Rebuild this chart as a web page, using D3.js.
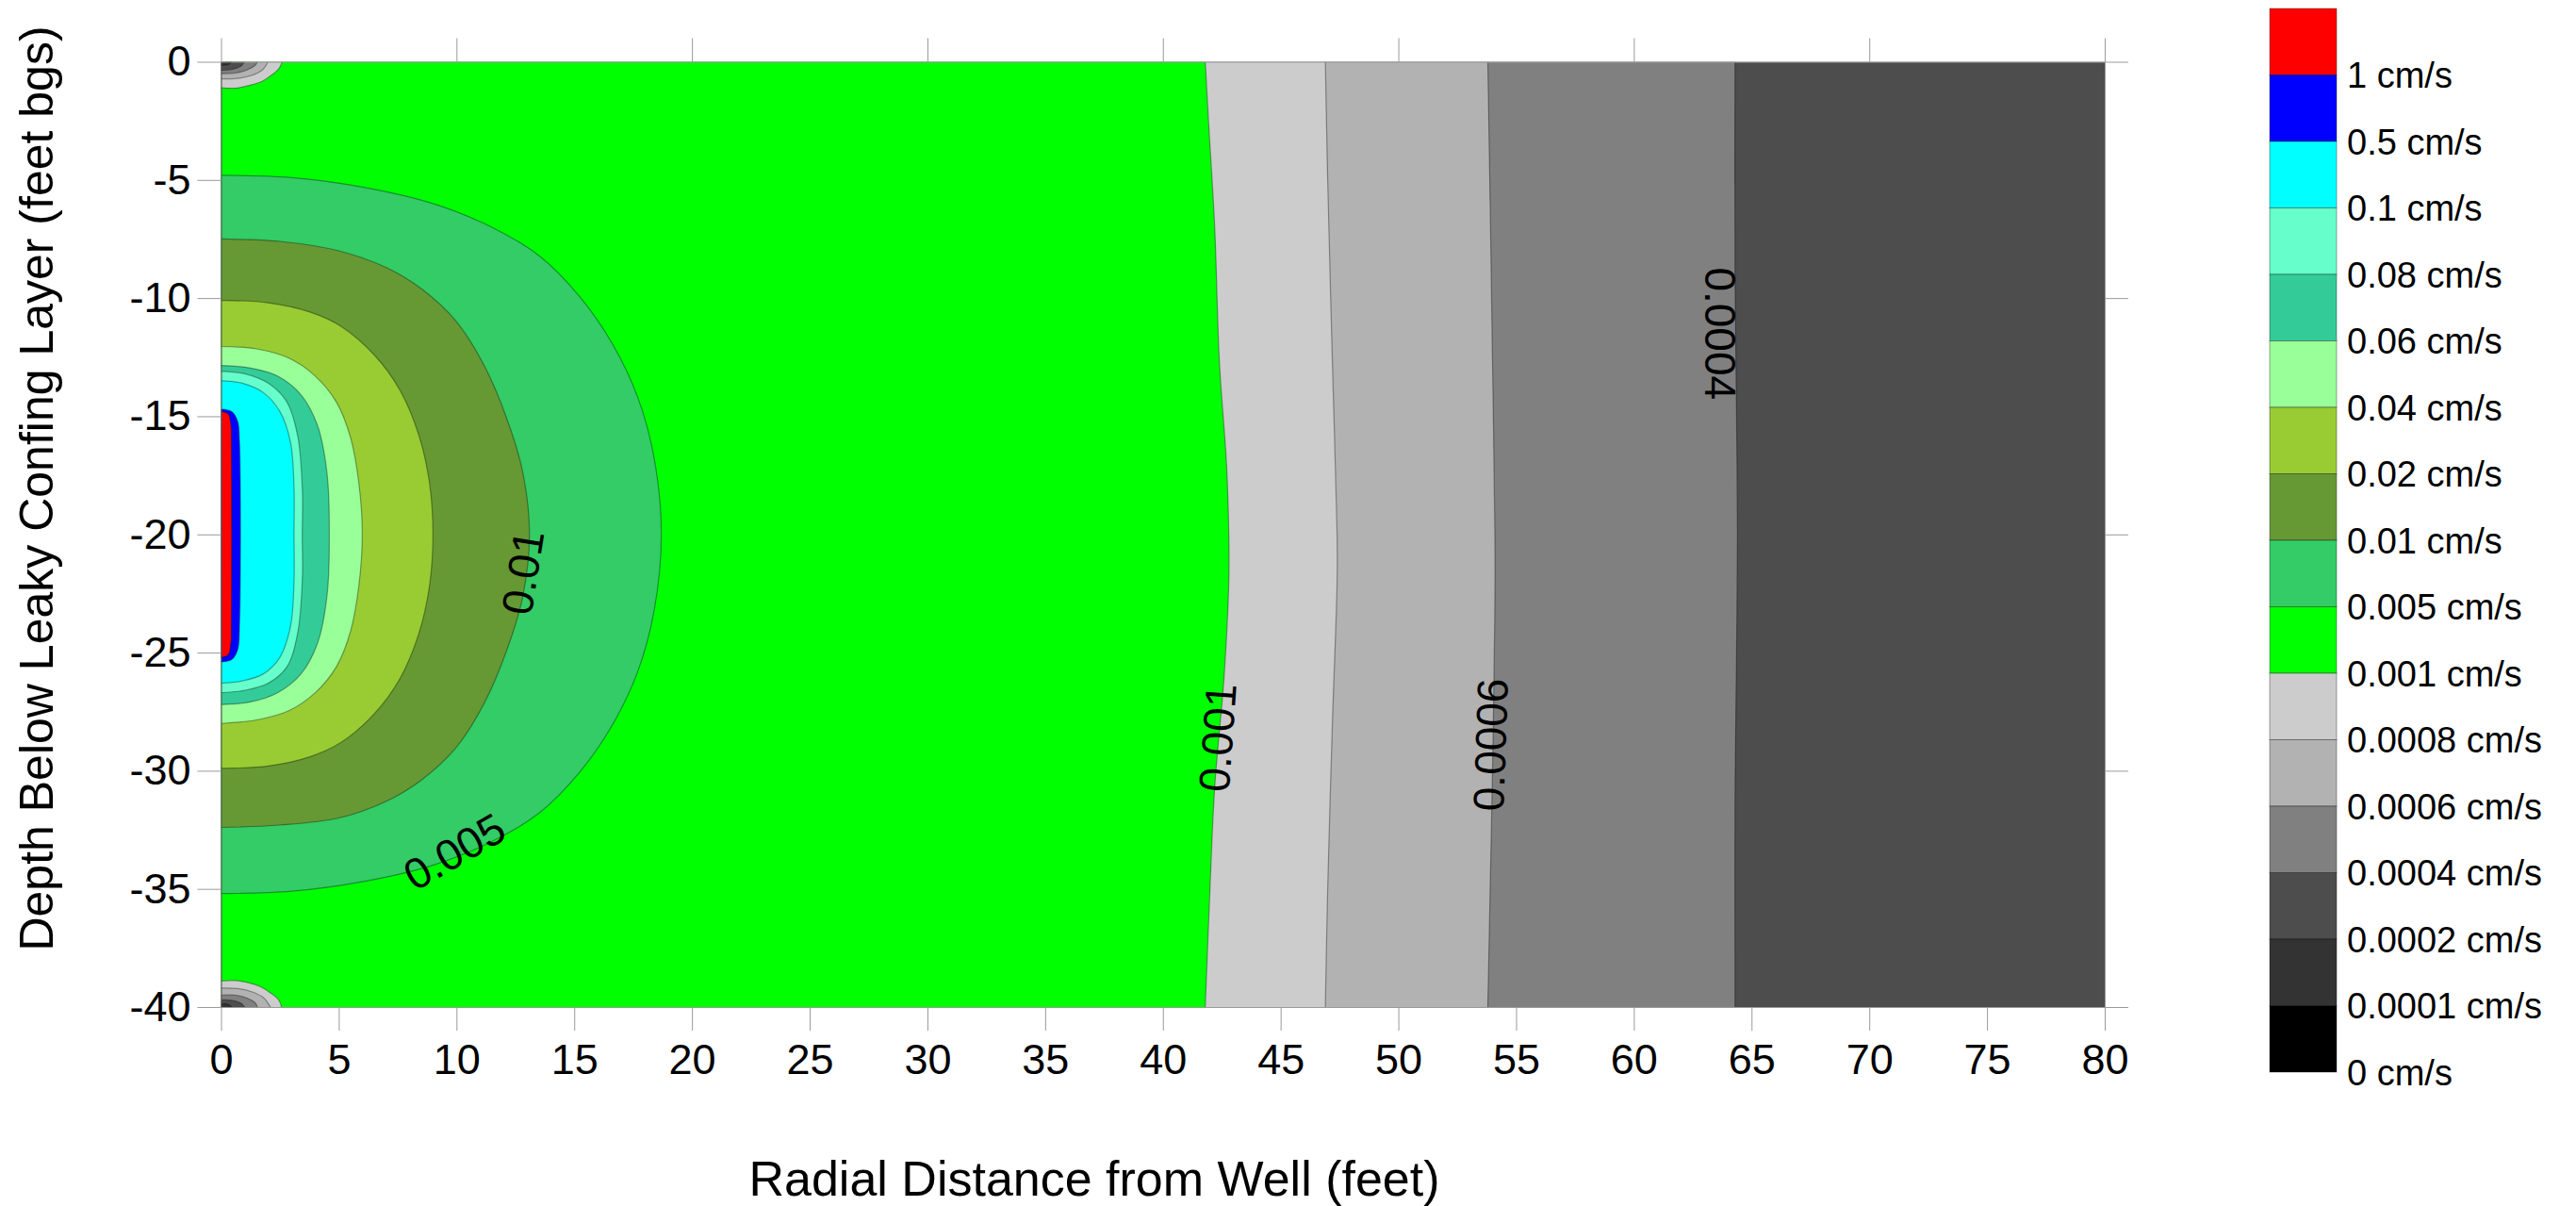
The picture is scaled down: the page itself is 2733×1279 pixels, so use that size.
<!DOCTYPE html>
<html>
<head>
<meta charset="utf-8">
<script src="https://cdn.jsdelivr.net/npm/d3@7"></script>
<style>
  body { margin: 0; background: #fff; }
  svg text { font-family: "Liberation Sans", Arial, sans-serif; fill: #000; }
</style>
</head>
<body>
<div id="canvas"></div>
<script>
// contour levels (cm/s); bandColors[i] fills values between levels[i] and levels[i+1]
var levels = [0, 0.0001, 0.0002, 0.0004, 0.0006, 0.0008, 0.001, 0.005, 0.01, 0.02, 0.04, 0.06, 0.08, 0.1, 0.5, 1];
var bandColors = ['#000000', '#333333', '#4d4d4d', '#808080', '#b2b2b2', '#cccccc', '#00ff00', '#33cc66',
  '#669933', '#99cc33', '#99ff99', '#33cc99', '#66ffcc', '#00ffff', '#0000ff', '#ff0000'];

var xTicks = [0, 5, 10, 15, 20, 25, 30, 35, 40, 45, 50, 55, 60, 65, 70, 75, 80];
var yTicks = [0, -5, -10, -15, -20, -25, -30, -35, -40];
var xTopTicks = [0, 10, 20, 30, 40, 50, 60, 70, 80];
var yRightTicks = [0, -10, -20, -30, -40];

// contour boundaries, [radial ft, depth ft]
var c0004 = [[64.3, 0], [64.3, -9], [64.4, -20], [64.3, -31], [64.3, -40]];
var c0006 = [[53.8, 0], [53.9, -6], [54.0, -12.7], [54.1, -20], [54.1, -23], [54.0, -30], [53.9, -35], [53.8, -40]];
var c0008 = [[46.9, 0], [47.0, -5], [47.2, -12.7], [47.4, -20], [47.4, -22], [47.2, -28], [47.0, -35], [46.9, -40]];
var c001 = [[41.8, 0], [41.95, -2.7], [42.2, -7], [42.4, -12.7], [42.7, -17], [42.8, -20], [42.8, -22],
  [42.6, -26], [42.2, -30.7], [42.0, -35], [41.8, -40]];
var c005 = [[0, -4.8], [3, -4.9], [6, -5.3], [9, -6.0], [11.5, -7.0], [13.5, -8.2], [15.2, -9.9], [16.6, -11.9],
  [17.7, -14.2], [18.4, -16.8], [18.7, -20], [18.4, -23.2], [17.7, -25.8], [16.6, -28.1], [15.2, -30.1],
  [13.5, -31.8], [11.5, -33.0], [9, -34.0], [6, -34.7], [3, -35.1], [0, -35.2]];
var c01 = [[0, -7.5], [2.5, -7.6], [5, -8.0], [7, -8.7], [8.5, -9.6], [10.0, -11.0], [11.2, -12.9], [12.1, -15.0],
  [12.8, -17.3], [13.1, -20], [12.8, -22.7], [12.1, -25.0], [11.2, -27.1], [10.0, -29.0], [8.5, -30.4],
  [7, -31.3], [5, -32.0], [2.5, -32.3], [0, -32.4]];
var c02 = [[0, -10.1], [2, -10.2], [3.8, -10.6], [5.1, -11.2], [6.5, -12.4], [7.6, -13.9], [8.4, -15.8], [8.85, -17.8],
  [9.0, -20], [8.85, -22.2], [8.4, -24.2], [7.6, -26.1], [6.5, -27.6], [5.1, -28.8], [3.8, -29.4], [2, -29.8], [0, -29.9]];
var c04 = [[0, -12.05], [1.5, -12.15], [2.9, -12.55], [4.0, -13.3], [4.9, -14.4], [5.5, -15.9], [5.85, -17.8], [6.0, -20],
  [5.85, -22.2], [5.5, -24.1], [4.9, -25.6], [4.0, -26.7], [2.9, -27.45], [1.5, -27.85], [0, -28.0]];
var c06 = [[0, -12.85], [1.2, -12.95], [2.4, -13.3], [3.4, -14.1], [4.1, -15.4], [4.5, -17.4], [4.6, -20],
  [4.5, -22.6], [4.1, -24.6], [3.4, -25.9], [2.4, -26.7], [1.2, -27.1], [0, -27.2]];
var c08 = [[0, -13.1], [1, -13.2], [2, -13.6], [2.8, -14.4], [3.25, -15.8], [3.45, -18], [3.45, -20],
  [3.45, -22], [3.25, -24.2], [2.8, -25.6], [2, -26.3], [1, -26.6], [0, -26.7]];
var c1 = [[0, -13.5], [0.9, -13.6], [1.8, -14.0], [2.5, -14.8], [2.95, -16.1], [3.1, -18], [3.1, -20],
  [3.1, -22], [2.95, -23.9], [2.5, -25.2], [1.8, -25.9], [0.9, -26.2], [0, -26.3]];
var c5 = [[0, -14.7], [0.45, -14.8], [0.7, -15.2], [0.78, -16], [0.78, -24], [0.7, -24.9], [0.45, -25.3], [0, -25.4]];
var c10 = [[0, -14.8], [0.3, -14.9], [0.42, -15.4], [0.44, -16], [0.44, -24], [0.42, -24.6], [0.3, -25.1], [0, -25.2]];

// low-value blobs in the two corners at the well
var top001 = [[0, -1.1], [0.6, -1.12], [1.2, -1.0], [1.7, -0.85], [2.1, -0.6], [2.45, -0.3], [2.6, 0]];
var top0008 = [[0, -0.72], [0.7, -0.7], [1.3, -0.58], [1.75, -0.35], [2.0, 0]];
var top0006 = [[0, -0.5], [0.6, -0.48], [1.1, -0.35], [1.45, -0.15], [1.55, 0]];
var top0004 = [[0, -0.36], [0.5, -0.32], [0.85, -0.18], [1.0, 0]];
var top0002 = [[0, -0.15], [0.3, -0.12], [0.45, 0]];
var bot001 = [[0, -38.9], [0.6, -38.88], [1.2, -38.98], [1.7, -39.15], [2.1, -39.4], [2.45, -39.7], [2.57, -40]];
var bot0008 = [[0, -39.2], [0.7, -39.22], [1.3, -39.35], [1.8, -39.6], [2.1, -40]];
var bot0006 = [[0, -39.5], [0.6, -39.5], [1.1, -39.62], [1.45, -39.82], [1.55, -40]];
var bot0004 = [[0, -39.7], [0.5, -39.72], [0.85, -39.84], [1.0, -40]];
var bot0002 = [[0, -39.85], [0.3, -39.88], [0.45, -40]];

var contourLabels = [
  {text: '0.01', r: 12.8, z: -21.6, angle: -81},
  {text: '0.005', r: 9.9, z: -33.4, angle: -30},
  {text: '0.001', r: 42.3, z: -28.6, angle: -86},
  {text: '0.0006', r: 53.9, z: -28.9, angle: -88},
  {text: '0.0004', r: 63.7, z: -11.5, angle: 90}
];

// painter's order: outermost first; side says which side of the level is inside
var contours = [
  {level: 0.0004, side: 'high', pts: c0004},
  {level: 0.0006, side: 'high', pts: c0006},
  {level: 0.0008, side: 'high', pts: c0008},
  {level: 0.001, side: 'high', pts: c001},
  {level: 0.005, side: 'high', pts: c005},
  {level: 0.01, side: 'high', pts: c01},
  {level: 0.02, side: 'high', pts: c02},
  {level: 0.04, side: 'high', pts: c04},
  {level: 0.06, side: 'high', pts: c06},
  {level: 0.08, side: 'high', pts: c08},
  {level: 0.1, side: 'high', pts: c1},
  {level: 0.5, side: 'high', pts: c5},
  {level: 1, side: 'high', pts: c10},
  {level: 0.001, side: 'low', pts: top001},
  {level: 0.0008, side: 'low', pts: top0008},
  {level: 0.0006, side: 'low', pts: top0006},
  {level: 0.0004, side: 'low', pts: top0004},
  {level: 0.0002, side: 'low', pts: top0002},
  {level: 0.001, side: 'low', pts: bot001},
  {level: 0.0008, side: 'low', pts: bot0008},
  {level: 0.0006, side: 'low', pts: bot0006},
  {level: 0.0004, side: 'low', pts: bot0004},
  {level: 0.0002, side: 'low', pts: bot0002}
];

var W = 2733, H = 1279;
var plot = {left: 234.5, top: 65.5, right: 2233, bottom: 1068};

var svg = d3.select('#canvas')
  .append('svg')
  .attr('width', W)
  .attr('height', H);

var x = d3.scaleLinear().domain([0, 80]).range([plot.left, plot.right]);
var y = d3.scaleLinear().domain([0, -40]).range([plot.top, plot.bottom]);

var bandColor = function (level, side) {
  var i = levels.indexOf(level);
  return bandColors[side === 'high' ? i : i - 1];
};

svg.append('clipPath')
  .attr('id', 'plot-clip')
  .append('rect')
  .attr('x', plot.left)
  .attr('y', plot.top)
  .attr('width', plot.right - plot.left)
  .attr('height', plot.bottom - plot.top);

var field = svg.append('g').attr('clip-path', 'url(#plot-clip)');

// band between 0.0002 and 0.0004 fills the far field
field.append('rect')
  .attr('x', x(0))
  .attr('y', y(0))
  .attr('width', x(80) - x(0))
  .attr('height', y(-40) - y(0))
  .attr('fill', bandColor(0.0002, 'high'));

var line = d3.line()
  .x(function (d) { return x(d[0]); })
  .y(function (d) { return y(d[1]); })
  .curve(d3.curveCatmullRom);

var regionPath = function (pts) {
  var first = pts[0], last = pts[pts.length - 1];
  return line(pts) + 'L' + x(0) + ',' + y(last[1]) + 'L' + x(0) + ',' + y(first[1]) + 'Z';
};

field.selectAll('path.band')
  .data(contours)
  .enter()
  .append('path')
  .attr('class', 'band')
  .attr('d', function (d) { return regionPath(d.pts); })
  .attr('fill', function (d) { return bandColor(d.level, d.side); });

field.selectAll('path.iso')
  .data(contours)
  .enter()
  .append('path')
  .attr('class', 'iso')
  .attr('d', function (d) { return line(d.pts); })
  .attr('fill', 'none')
  .attr('stroke', '#000')
  .attr('stroke-opacity', 0.35)
  .attr('stroke-width', 1.2);

field.selectAll('text.clabel')
  .data(contourLabels)
  .enter()
  .append('text')
  .attr('class', 'clabel')
  .attr('transform', function (d) {
    return 'translate(' + x(d.r) + ',' + y(d.z) + ') rotate(' + d.angle + ')';
  })
  .attr('text-anchor', 'middle')
  .attr('dy', '0.36em')
  .style('font-size', '46px')
  .text(function (d) { return d.text; });

// axes
var styleAxis = function (g, labels) {
  g.select('.domain').attr('stroke', '#9a9a9a');
  g.selectAll('.tick line').attr('stroke', '#9a9a9a');
  g.selectAll('.tick text')
    .attr('fill', '#000')
    .style('font-size', labels ? '45px' : '0px')
    .style('font-family', '"Liberation Sans", Arial, sans-serif');
};

var plainNumber = function (d) { return String(d); };

svg.append('g')
  .attr('transform', 'translate(0,' + plot.bottom + ')')
  .call(d3.axisBottom(x).tickValues(xTicks).tickSize(25).tickSizeOuter(0).tickPadding(14).tickFormat(plainNumber))
  .call(styleAxis, true);

svg.append('g')
  .attr('transform', 'translate(' + plot.left + ',0)')
  .call(d3.axisLeft(y).tickValues(yTicks).tickSize(25).tickSizeOuter(0).tickPadding(7).tickFormat(plainNumber))
  .call(styleAxis, true)
  .select('.domain').attr('stroke', '#555');

svg.append('g')
  .attr('transform', 'translate(0,' + plot.top + ')')
  .call(d3.axisTop(x).tickValues(xTopTicks).tickSize(25).tickSizeOuter(0).tickFormat(''))
  .call(styleAxis, false);

svg.append('g')
  .attr('transform', 'translate(' + plot.right + ',0)')
  .call(d3.axisRight(y).tickValues(yRightTicks).tickSize(25).tickSizeOuter(0).tickFormat(''))
  .call(styleAxis, false);

svg.append('text')
  .attr('x', 1161)
  .attr('y', 1268)
  .attr('text-anchor', 'middle')
  .style('font-size', '52px')
  .text('Radial Distance from Well (feet)');

svg.append('text')
  .attr('transform', 'translate(56,518) rotate(-90)')
  .attr('text-anchor', 'middle')
  .style('font-size', '50px')
  .text('Depth Below Leaky Confing Layer (feet bgs)');

// colour legend, red at the top
var legendY = d3.scaleLinear().domain([0, levels.length]).range([9, 1137]);
var legendRows = levels.map(function (lv, i) { return {level: lv, color: bandColors[i]}; }).reverse();

var legend = svg.append('g');

legend.selectAll('rect')
  .data(legendRows)
  .enter()
  .append('rect')
  .attr('x', 2408)
  .attr('y', function (d, i) { return legendY(i); })
  .attr('width', 71)
  .attr('height', function (d, i) { return legendY(i + 1) - legendY(i); })
  .attr('fill', function (d) { return d.color; })
  .attr('stroke', 'rgba(0,0,0,0.35)')
  .attr('stroke-width', 1);

legend.selectAll('text')
  .data(legendRows)
  .enter()
  .append('text')
  .attr('x', 2490)
  .attr('y', function (d, i) { return legendY(i + 1); })
  .attr('dy', '0.36em')
  .style('font-size', '38px')
  .text(function (d) { return d.level + ' cm/s'; });
</script>
</body>
</html>
